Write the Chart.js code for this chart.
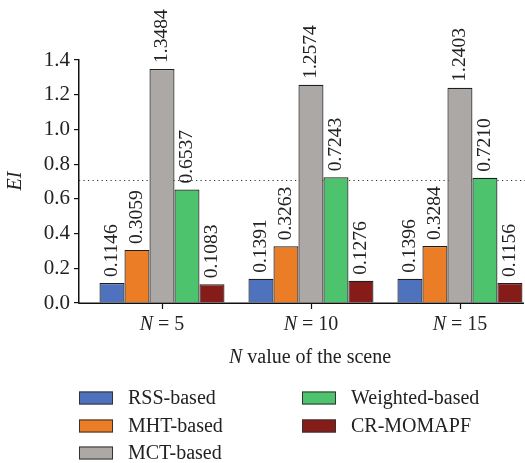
<!DOCTYPE html>
<html>
<head>
<meta charset="utf-8">
<script src="https://cdn.jsdelivr.net/npm/chart.js@4.4.1/dist/chart.umd.min.js"></script>
<style>
  html, body { margin: 0; padding: 0; background: #fff; overflow: hidden; }
  #wrap { width: 525px; height: 463px; position: relative; }
</style>
</head>
<body>
<div id="wrap"><canvas id="c" width="525" height="463"></canvas></div>
<script>
// Scene sizes (N) on the x axis
const categories = [5, 10, 15];
// EI per method for each N
const rssBased      = [0.1146, 0.1391, 0.1396];
const mhtBased      = [0.3059, 0.3263, 0.3284];
const mctBased      = [1.3484, 1.2574, 1.2403];
const weightedBased = [0.6537, 0.7243, 0.7210];
const crMomapf      = [0.1083, 0.1276, 0.1156];
const seriesNames   = ['RSS-based', 'MHT-based', 'MCT-based', 'Weighted-based', 'CR-MOMAPF'];
const seriesValues  = [rssBased, mhtBased, mctBased, weightedBased, crMomapf];
const seriesColors  = ['#4f72be', '#ea7d25', '#aca8a6', '#4dc36d', '#861c18'];
const yTicks        = [0.0, 0.2, 0.4, 0.6, 0.8, 1.0, 1.2, 1.4];
const referenceLevel = 0.71;

const SERIF = '"Liberation Serif", "Times New Roman", serif';
const INK = '#222';

const datasets = seriesNames.map((name, i) => ({
  label: name,
  data: seriesValues[i].map((v, k) => ({ x: k, y: v })),
  backgroundColor: seriesColors[i],
  borderColor: '#1e1e1e',
  borderWidth: 1.2,
  categoryPercentage: 0.839,
  barPercentage: 1.0
}));

// Dotted reference line, bar value labels, axis text and the two-column legend
const decorations = {
  id: 'decorations',
  beforeDatasetsDraw(chart) {
    const { ctx, chartArea } = chart;
    const y = chart.scales.y.getPixelForValue(referenceLevel);
    ctx.save();
    ctx.strokeStyle = '#333';
    ctx.lineWidth = 1.2;
    ctx.setLineDash([1.2, 3.3]);
    ctx.beginPath();
    ctx.moveTo(chartArea.left, Math.round(y) + 0.5);
    ctx.lineTo(chartArea.right + 5, Math.round(y) + 0.5);
    ctx.stroke();
    ctx.restore();
  },
  afterDatasetsDraw(chart) {
    const { ctx } = chart;
    ctx.save();
    ctx.fillStyle = INK;
    ctx.font = '19.5px ' + SERIF;
    ctx.textAlign = 'left';
    ctx.textBaseline = 'middle';
    chart.data.datasets.forEach((ds, i) => {
      const meta = chart.getDatasetMeta(i);
      meta.data.forEach((bar, k) => {
        const txt = seriesValues[i][k].toFixed(4);
        ctx.save();
        ctx.translate(bar.x, bar.y - 6);
        ctx.rotate(-Math.PI / 2);
        ctx.fillText(txt, 0, 0);
        ctx.restore();
      });
    });
    ctx.restore();
  },
  afterDraw(chart) {
    const { ctx, chartArea } = chart;
    const xs = chart.scales.x;
    ctx.save();

    // clean band under the axis, then the axis line and one tick per group
    ctx.fillStyle = '#fff';
    ctx.fillRect(chartArea.left + 1, chartArea.bottom + 1, chartArea.right - chartArea.left, 14);
    ctx.strokeStyle = '#111';
    ctx.lineWidth = 1.5;
    ctx.beginPath();
    ctx.moveTo(chartArea.left - 0.75, chartArea.bottom + 0.25);
    ctx.lineTo(chartArea.right, chartArea.bottom + 0.25);
    ctx.stroke();
    ctx.lineWidth = 1.2;
    categories.forEach((_, k) => {
      const cx = Math.round(xs.getPixelForValue(k)) + 0.5;
      ctx.beginPath();
      ctx.moveTo(cx, chartArea.bottom);
      ctx.lineTo(cx, chartArea.bottom + 6);
      ctx.stroke();
    });

    ctx.fillStyle = INK;
    ctx.textBaseline = 'middle';

    // x tick labels: italic N
    const italic = 'italic 20px ' + SERIF;
    const upright = '20px ' + SERIF;
    categories.forEach((n, k) => {
      const cx = xs.getPixelForValue(k);
      ctx.font = italic; const a = 'N';
      const wa = ctx.measureText(a).width;
      ctx.font = upright; const b = ' = ' + n;
      const wb = ctx.measureText(b).width;
      let x0 = cx - (wa + wb) / 2;
      ctx.textAlign = 'left';
      ctx.font = italic; ctx.fillText(a, x0, 325);
      ctx.font = upright; ctx.fillText(b, x0 + wa, 325);
    });

    // x axis title
    {
      ctx.font = italic; const a = 'N';
      const wa = ctx.measureText(a).width;
      ctx.font = upright; const b = ' value of the scene';
      const wb = ctx.measureText(b).width;
      const x0 = 310 - (wa + wb) / 2;
      ctx.textAlign = 'left';
      ctx.font = italic; ctx.fillText(a, x0, 358);
      ctx.font = upright; ctx.fillText(b, x0 + wa, 358);
    }

    // y axis title
    ctx.save();
    ctx.translate(16, 181);
    ctx.rotate(-Math.PI / 2);
    ctx.textAlign = 'center';
    ctx.font = italic;
    ctx.fillText('EI', 0, 0);
    ctx.restore();

    // legend in two columns
    const cols = [[0, 1, 2], [3, 4]];
    const colX = [79, 302];
    const rowY = [398, 426, 453];
    ctx.font = upright;
    ctx.textAlign = 'left';
    cols.forEach((col, c) => {
      col.forEach((idx, r) => {
        const bx = colX[c], by = rowY[r] - 6.5;
        ctx.fillStyle = seriesColors[idx];
        ctx.fillRect(bx, by, 34, 13);
        ctx.strokeStyle = '#333';
        ctx.lineWidth = 1;
        ctx.strokeRect(bx + 0.5, by + 0.5, 33, 12);
        ctx.fillStyle = INK;
        ctx.fillText(seriesNames[idx], bx + 49, rowY[r] + 1);
      });
    });
    ctx.restore();
  }
};

new Chart(document.getElementById('c'), {
  type: 'bar',
  data: { datasets },
  options: {
    responsive: false,
    animation: false,
    events: [],
    layout: { padding: { top: 60, right: 1, bottom: 100, left: 0 } },
    plugins: { legend: { display: false }, tooltip: { enabled: false } },
    scales: {
      x: {
        type: 'linear',
        min: -0.557,
        max: 2.43,
        offset: false,
        afterFit(s) { s.height = 60; },
        afterBuildTicks(s) { s.ticks = categories.map((_, k) => ({ value: k })); },
        ticks: { display: false },
        grid: {
          display: false, drawOnChartArea: false, drawTicks: false, tickLength: 0,
          color: 'rgba(0,0,0,0)', tickColor: 'rgba(0,0,0,0)'
        },
        border: { display: false }
      },
      y: {
        min: 0,
        max: 1.4,
        afterFit(s) { s.width = 79; },
        afterBuildTicks(s) { s.ticks = yTicks.map(v => ({ value: v })); },
        ticks: {
          padding: 4,
          color: INK,
          font: { family: SERIF, size: 21 },
          callback: v => Number(v).toFixed(1)
        },
        grid: { drawOnChartArea: false, drawTicks: true, tickLength: 5, color: '#111', lineWidth: 1.2 },
        border: { display: true, color: '#111', width: 1.5 }
      }
    }
  },
  plugins: [decorations]
});
</script>
</body>
</html>
